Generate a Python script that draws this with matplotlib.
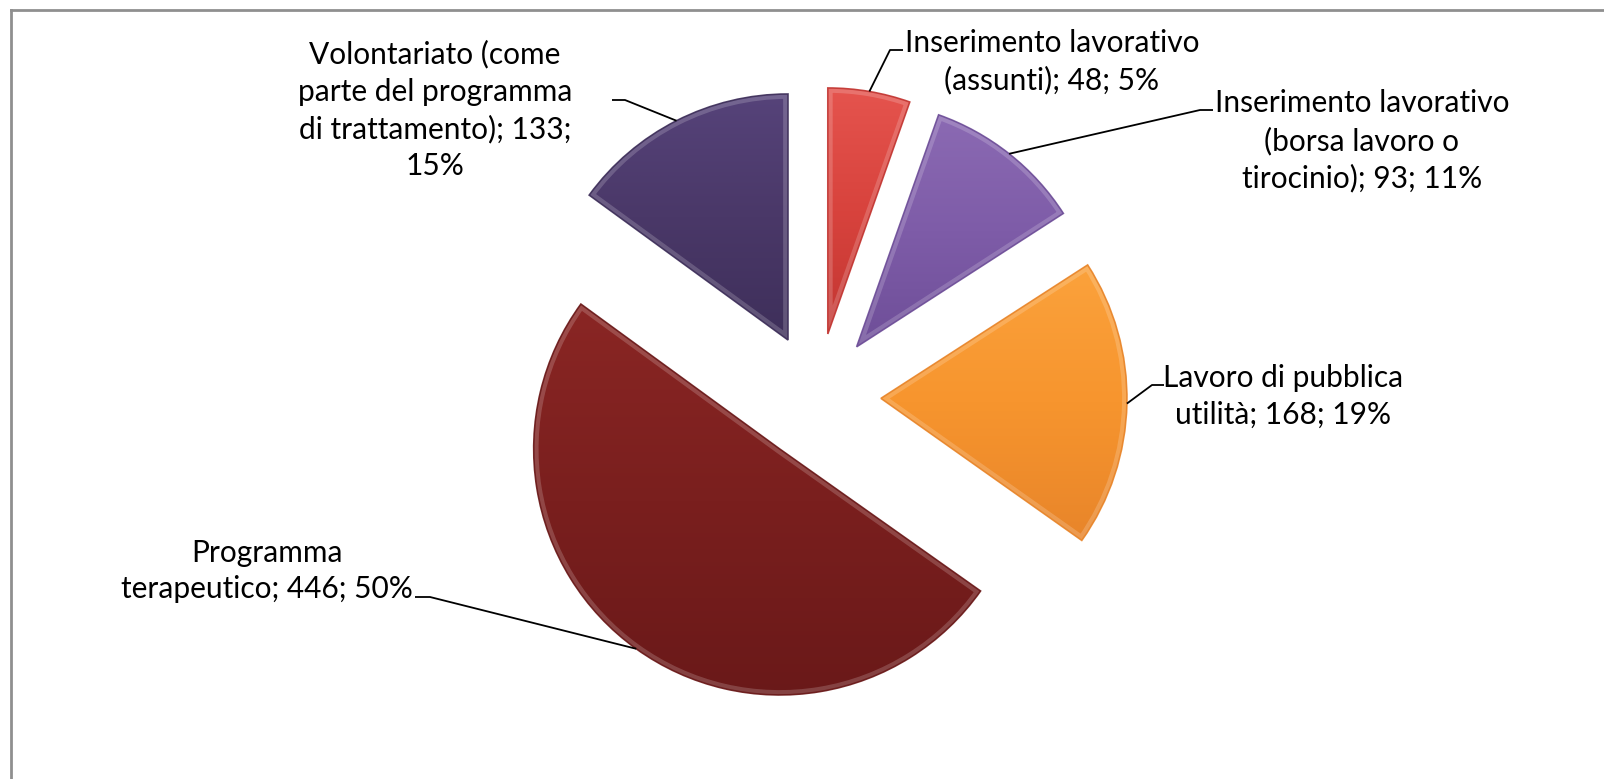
import numpy as np
import matplotlib
matplotlib.use("Agg")
import matplotlib.pyplot as plt
from matplotlib.colors import LinearSegmentedColormap
from matplotlib.patches import PathPatch
from matplotlib.lines import Line2D

# data
categories = [
    "Inserimento lavorativo\n(assunti)",
    "Inserimento lavorativo\n(borsa lavoro o\ntirocinio)",
    "Lavoro di pubblica\nutilità",
    "Programma\nterapeutico",
    "Volontariato (come\nparte del programma\ndi trattamento)",
]
values = [48, 93, 168, 446, 133]
label_text = [
    "Inserimento lavorativo\n(assunti); 48; 5%",
    "Inserimento lavorativo\n(borsa lavoro o\ntirocinio); 93; 11%",
    "Lavoro di pubblica\nutilità; 168; 19%",
    "Programma\nterapeutico; 446; 50%",
    "Volontariato (come\nparte del programma\ndi trattamento); 133;\n15%",
]
colors = ["#D8433D", "#7E5CA8", "#F7952E", "#7A1F1E", "#4A3868"]
light = ["#E5544E", "#8B6AB3", "#FBA23C", "#8A2624", "#56437A"]
dark = ["#C23632", "#6E4E98", "#E8852A", "#6A1919", "#3E2F5A"]

# layout (pixels of a 1604x779 image)
W, H = 1604, 779
CX, CY, RPX = 817, 397, 246
EXPLODE = 0.26


def px(x, y):
    return (x - CX) / RPX, (CY - y) / RPX


# label centre, elbow point, end of horizontal stub
label_pos = [(1052, 62), (1362, 141), (1283, 396), (267, 571), (435, 110)]
elbows = [((890, 50), (903, 50)), ((1200, 110), (1213, 110)),
          ((1152, 385), (1164, 385)), ((430, 597), (415, 597)),
          ((625, 100), (612, 100))]

plt.rcParams["font.family"] = ["Lato", "DejaVu Sans"]

fig = plt.figure(figsize=(W / 100, H / 100), dpi=100)
ax = fig.add_axes([0, 0, 1, 1])

wedges, _ = ax.pie(values, explode=[EXPLODE] * len(values), startangle=90,
                   counterclock=False, colors=colors, radius=1,
                   wedgeprops=dict(linewidth=0))

ax.set_aspect("equal")
ax.axis("off")

for i, w in enumerate(wedges):
    w.set_zorder(2)
    path = w.get_path()
    verts = path.vertices
    x0, x1 = verts[:, 0].min(), verts[:, 0].max()
    y0, y1 = verts[:, 1].min(), verts[:, 1].max()
    cmap = LinearSegmentedColormap.from_list("g", [dark[i], colors[i], light[i]])
    grad = np.linspace(0, 1, 256).reshape(-1, 1)
    im = ax.imshow(grad, cmap=cmap, extent=(x0, x1, y0, y1), origin="lower",
                   aspect="auto", zorder=3, interpolation="bicubic")
    im.set_clip_path(w)
    # bevel rim
    rim = PathPatch(path, facecolor="none", edgecolor="white", alpha=0.18,
                    linewidth=7, zorder=4, transform=w.get_transform())
    ax.add_patch(rim)
    rim.set_clip_path(w)
    rim2 = PathPatch(path, facecolor="none", edgecolor=dark[i], alpha=0.9,
                     linewidth=1.2, zorder=5, transform=w.get_transform())
    ax.add_patch(rim2)

# limits after pie/imshow so they are not reset
ax.set_xlim(-CX / RPX, (W - CX) / RPX)
ax.set_ylim(-(H - CY) / RPX, CY / RPX)

# data labels with leader lines
for i, w in enumerate(wedges):
    mid = np.deg2rad((w.theta1 + w.theta2) / 2)
    cx, cy = w.center
    ax_x, ax_y = cx + w.r * np.cos(mid), cy + w.r * np.sin(mid)
    (ex, ey), (sx, sy) = elbows[i]
    e = px(ex, ey)
    s = px(sx, sy)
    ax.plot([ax_x, e[0], s[0]], [ax_y, e[1], s[1]], color="black",
            linewidth=1.3, zorder=6, solid_capstyle="butt")
    lx, ly = px(*label_pos[i])
    ax.text(lx, ly, label_text[i], ha="center", va="center", fontsize=21.5,
            linespacing=1.38, color="black", zorder=7)

# chart area frame (left and top edges visible)
fig.add_artist(Line2D([11 / W, 11 / W], [0, 1 - 10 / H], color="#8F8F8F",
                      linewidth=2, transform=fig.transFigure))
fig.add_artist(Line2D([11 / W, 1], [1 - 10 / H, 1 - 10 / H], color="#8F8F8F",
                      linewidth=2, transform=fig.transFigure))

fig.savefig("out.png", dpi=100)
